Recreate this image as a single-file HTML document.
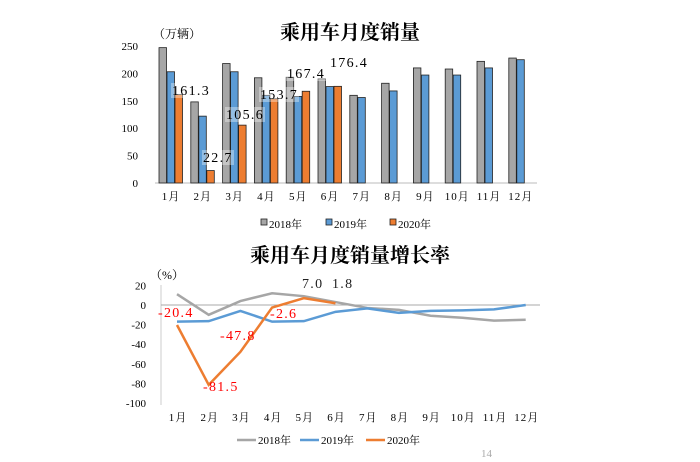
<!DOCTYPE html>
<html><head><meta charset="utf-8">
<style>
html,body{margin:0;padding:0;background:#fff;width:700px;height:462px;overflow:hidden}
svg{display:block}
text{font-family:"Liberation Serif","Noto Serif CJK SC","Noto Sans CJK SC",serif}
</style></head><body>
<svg id="s" width="700" height="462" xmlns="http://www.w3.org/2000/svg">
<text x="350" y="39" font-size="20" font-weight="bold" text-anchor="middle" font-family="Liberation Sans,Noto Sans CJK SC,sans-serif">乘用车月度销量</text>
<text x="153" y="38" font-size="12" font-family="Liberation Sans,Noto Sans CJK SC,sans-serif">（万辆）</text>
<text x="350" y="262" font-size="20" font-weight="bold" text-anchor="middle" font-family="Liberation Sans,Noto Sans CJK SC,sans-serif">乘用车月度销量增长率</text>
<text x="150" y="279" font-size="12" font-family="Liberation Sans,Noto Sans CJK SC,sans-serif">（%）</text>
<text x="481" y="457" font-size="11" fill="#aaa" font-family="Liberation Sans,sans-serif">14</text>
<g id="gt"></g><g id="gb"></g>
</svg>
<script>
(function(){
var NS="http://www.w3.org/2000/svg";
function el(p,t,a,txt){var e=document.createElementNS(NS,t);for(var k in a)e.setAttribute(k,a[k]);if(txt!=null)e.textContent=txt;p.appendChild(e);return e;}
var gt=document.getElementById('gt'),gb=document.getElementById('gb');
var y0=183,sc=137/250;
[0,50,100,150,200,250].forEach(function(v){el(gt,'text',{x:138,y:y0-v*sc+4,'font-size':11,'text-anchor':'end'},v);});
el(gt,'line',{x1:155,y1:y0,x2:537,y2:y0,stroke:'#bbb','stroke-width':1});
var d18=[247,148,218,192,193,190,160,182,210,208,222,228];
var d19=[203,122,203,160,158,176,156,168,197,197,210,225];
var d20=[161.3,22.7,105.6,153.7,167.4,176.4];
var cols=['#a6a6a6','#5b9bd5','#ed7d31'];
for(var i=0;i<12;i++){
 var x=159+31.8*i;
 [d18[i],d19[i],d20[i]].forEach(function(v,j){ if(v==null)return;
  el(gt,'rect',{x:x+j*8,y:y0-v*sc,width:7.5,height:v*sc,fill:cols[j],stroke:'#222','stroke-width':0.8});});
 el(gt,'text',{x:x+12,y:200,'font-size':11,'text-anchor':'middle','letter-spacing':1},(i+1)+'月');
}
[['161.3',172,95],['22.7',203,162],['105.6',226,119],['153.7',260,99],['167.4',287,78],['176.4',330,67]].forEach(function(a){
 el(gt,'rect',{x:a[1]-1,y:a[2]-12,width:a[0].length*8,height:15,fill:'#fff','fill-opacity':0.35});
 el(gt,'text',{x:a[1],y:a[2],'font-size':14,'letter-spacing':1.3},a[0]);});
[['2018年',261,cols[0]],['2019年',326,cols[1]],['2020年',390,cols[2]]].forEach(function(a){
 el(gt,'rect',{x:a[1],y:219,width:6,height:6,fill:a[2],stroke:'#222','stroke-width':0.8});
 el(gt,'text',{x:a[1]+8,y:228,'font-size':11},a[0]);});
var z=305,bs=0.98;
[20,0,-20,-40,-60,-80,-100].forEach(function(v){el(gb,'text',{x:146,y:z-v*bs+4,'font-size':11,'text-anchor':'end'},v);});
el(gb,'line',{x1:161,y1:285,x2:161,y2:405,stroke:'#ccc'});
el(gb,'line',{x1:161,y1:z,x2:540,y2:z,stroke:'#aaa'});
function px(i){return 177+31.7*i;}
var g18=[11,-10,4,12,9,3,-3,-5,-11,-13,-16,-15];
var g19=[-17,-16.5,-6,-17,-16.5,-7,-3.5,-8,-6,-5.5,-4.5,0];
var g20=[-20.4,-81.5,-47.8,-2.6,7.0,1.8];
[[g18,cols[0]],[g19,cols[1]],[g20,cols[2]]].forEach(function(a){
 el(gb,'polyline',{points:a[0].map(function(v,i){return px(i)+','+(z-v*bs);}).join(' '),fill:'none',stroke:a[1],'stroke-width':2.5});});
for(var i=0;i<12;i++) el(gb,'text',{x:px(i)+1,y:421,'font-size':11,'text-anchor':'middle','letter-spacing':1},(i+1)+'月');
[['-20.4',158,317,'#f00'],['-81.5',203,391,'#f00'],['-47.8',220,340,'#f00'],['-2.6',270,318,'#f00'],['7.0',302,288,'#222'],['1.8',332,288,'#222']].forEach(function(a){
 el(gb,'text',{x:a[1],y:a[2],'font-size':14,fill:a[3],'letter-spacing':1.3},a[0]);});
[['2018年',237],['2019年',300],['2020年',366]].forEach(function(a,j){
 el(gb,'line',{x1:a[1],y1:440,x2:a[1]+19,y2:440,stroke:cols[j],'stroke-width':2.5});
 el(gb,'text',{x:a[1]+21,y:444,'font-size':11},a[0]);});
})();
</script>
</body></html>
